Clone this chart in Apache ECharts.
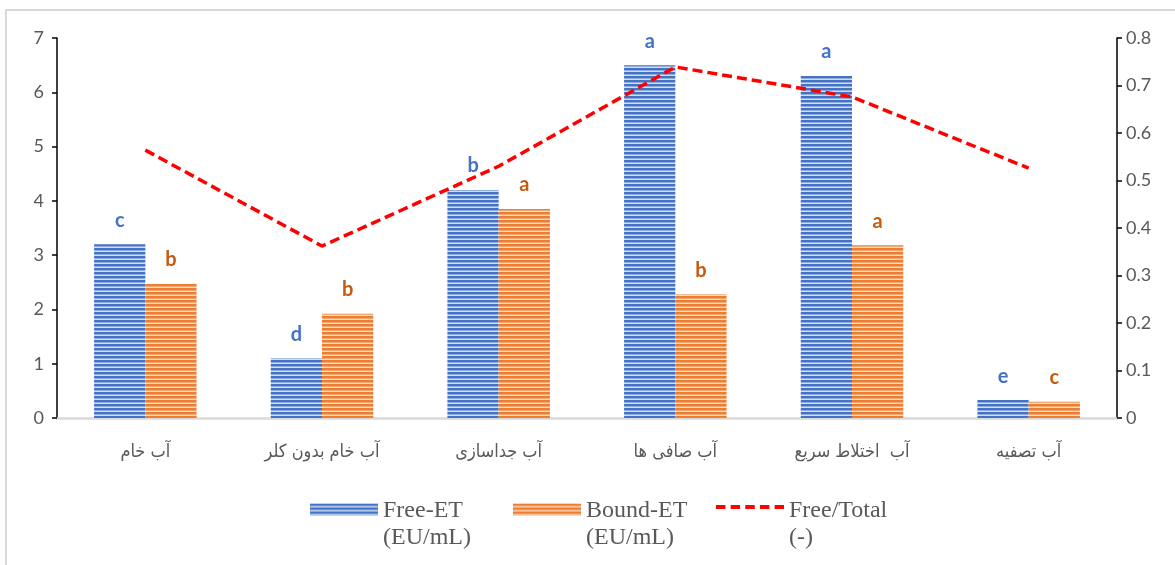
<!DOCTYPE html>
<html>
<head>
<meta charset="utf-8">
<script src="https://cdn.jsdelivr.net/npm/echarts@6/dist/echarts.min.js"></script>
<style>
  html, body { margin: 0; padding: 0; background: #fff; }
  #chart { width: 1175px; height: 565px; }
</style>
</head>
<body>
<div id="chart"></div>
<script>
// Sampling points (water treatment stages)
const categories = ['آب خام', 'آب خام بدون کلر', 'آب جداسازی', 'آب صافی ها', 'آب  اختلاط سریع', 'آب تصفیه'];

// Endotoxin concentrations (EU/mL)
const freeET = [3.2, 1.1, 4.2, 6.5, 6.3, 0.33];
const boundET = [2.47, 1.92, 3.85, 2.28, 3.18, 0.3];

// Free / total ratio (-)
const freeTotal = [0.564, 0.362, 0.53, 0.739, 0.676, 0.526];

// Significance letters above each bar
const freeLetters = ['c', 'd', 'b', 'a', 'a', 'e'];
const boundLetters = ['b', 'b', 'a', 'b', 'a', 'c'];

// Legend names
const legendNames = ['Free-ET\n(EU/mL)', 'Bound-ET\n(EU/mL)', 'Free/Total\n(-)'];

// Horizontal-stripe fill for the bars
function stripes(dark, mid, light) {
  const c = document.createElement('canvas');
  c.width = 4; c.height = 4;
  const g = c.getContext('2d');
  g.fillStyle = dark; g.fillRect(0, 0, 4, 2);
  g.fillStyle = mid; g.fillRect(0, 2, 4, 1);
  g.fillStyle = light; g.fillRect(0, 3, 4, 1);
  return { image: c, repeat: 'repeat' };
}
const bluePattern = stripes('#4472C4', '#8eaade', '#d3def3');
const orangePattern = stripes('#ED7D31', '#f3a772', '#fbdcc6');

// Legend icons: the visible mark sits in the top part so it lines up with the first text line
const barIcon = 'path://M0,0H68V12H0Z M0,40.9H0.1V41H0Z';
const dashIcon = 'path://M0,4.5H9V8.5H0Z M14,4.5H23V8.5H14Z M28,4.5H37V8.5H28Z M42,4.5H51V8.5H42Z M56,4.5H65V8.5H56Z M0,40.9H0.1V41H0Z';

const axisFont = 'Lato, "Open Sans", sans-serif';

const chart = echarts.init(document.getElementById('chart'), null, { renderer: 'canvas' });

chart.setOption({
  backgroundColor: '#ffffff',
  animation: false,
  graphic: [{
    type: 'rect',
    shape: { x: 6, y: 10, width: 1200, height: 600 },
    style: { fill: 'none', stroke: '#d9d9d9', lineWidth: 2 },
    silent: true,
    z: -10
  }],
  grid: { left: 57, right: 58, top: 38, bottom: 147 },
  legend: {
    left: 310,
    top: 497,
    padding: 0,
    itemWidth: 68,
    itemHeight: 41,
    itemGap: 23,
    selectedMode: false,
    textStyle: {
      fontFamily: '"Liberation Serif", "Times New Roman", serif',
      fontSize: 24,
      color: '#595959',
      lineHeight: 27,
      width: 107
    },
    data: [
      { name: legendNames[0], icon: barIcon },
      { name: legendNames[1], icon: barIcon },
      { name: legendNames[2], icon: dashIcon, itemStyle: { color: '#FF0000' } }
    ]
  },
  xAxis: {
    type: 'category',
    data: categories,
    axisLine: { lineStyle: { color: '#d9d9d9', width: 2.5 } },
    axisTick: { show: false },
    axisLabel: {
      margin: 25,
      fontSize: 18,
      color: '#595959',
      fontFamily: '"DejaVu Sans Condensed", "DejaVu Sans", sans-serif'
    }
  },
  yAxis: [{
    type: 'value',
    min: 0, max: 7, interval: 1,
    axisLine: { show: true, lineStyle: { color: '#000', width: 1.5 } },
    axisTick: { show: true, length: 5, lineStyle: { color: '#000', width: 1.5 } },
    splitLine: { show: false },
    axisLabel: { margin: 13, fontSize: 18, color: '#595959', fontFamily: axisFont }
  }, {
    type: 'value',
    position: 'right',
    min: 0, max: 0.8, interval: 0.1,
    axisLine: { show: true, lineStyle: { color: '#000', width: 1.5 } },
    axisTick: { show: true, length: 5, lineStyle: { color: '#000', width: 1.5 } },
    splitLine: { show: false },
    axisLabel: { margin: 9, fontSize: 18, color: '#595959', fontFamily: axisFont }
  }],
  series: [{
    name: legendNames[0],
    type: 'bar',
    data: freeET,
    barGap: '0%',
    barCategoryGap: '42%',
    itemStyle: { color: bluePattern },
    label: {
      show: true,
      position: 'top',
      distance: 14,
      formatter: p => freeLetters[p.dataIndex],
      color: '#4472C4',
      fontSize: 20,
      fontWeight: 'bold',
      fontFamily: axisFont
    }
  }, {
    name: legendNames[1],
    type: 'bar',
    data: boundET,
    itemStyle: { color: orangePattern },
    label: {
      show: true,
      position: 'top',
      distance: 14,
      formatter: p => boundLetters[p.dataIndex],
      color: '#C55A11',
      fontSize: 20,
      fontWeight: 'bold',
      fontFamily: axisFont
    }
  }, {
    name: legendNames[2],
    type: 'line',
    yAxisIndex: 1,
    data: freeTotal,
    symbol: 'none',
    z: 5,
    itemStyle: { color: '#FF0000' },
    lineStyle: { color: '#FF0000', width: 3.5, type: [10, 5] }
  }]
});
</script>
</body>
</html>
